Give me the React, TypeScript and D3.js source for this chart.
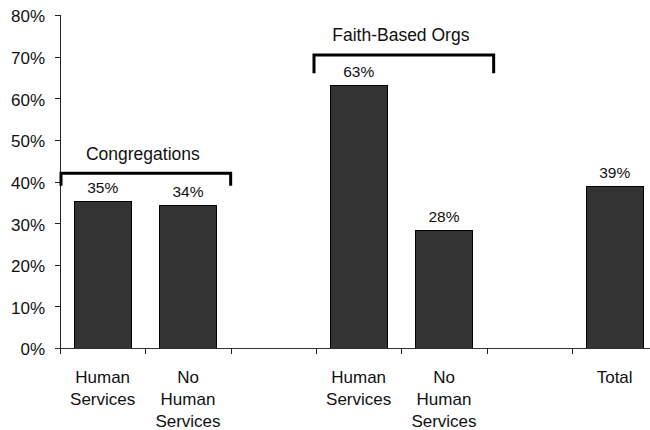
import React from "react";
import * as d3 from "d3";

const categories = ["congHS", "congNoHS", "gap1", "fboHS", "fboNoHS", "gap2", "total"];
const categoryLabels = [
  ["Human", "Services"],
  ["No", "Human", "Services"],
  [],
  ["Human", "Services"],
  ["No", "Human", "Services"],
  [],
  ["Total"],
];
const values: (number | null)[] = [35.4, 34.4, null, 63.2, 28.4, null, 39.0];
const valueLabels: (string | null)[] = ["35%", "34%", null, "63%", "28%", null, "39%"];
const yTicks = [0, 10, 20, 30, 40, 50, 60, 70, 80];

const groupLabels = ["Congregations", "Faith-Based Orgs"];
const groupStartIndex = [0, 3];
const groupEndIndex = [2, 5];
const groupLevel = [42, 70.4];
const groupDrop = [39, 66];

const W = 650;
const H = 430;
const FONT = "'Liberation Sans', Arial, Helvetica, sans-serif";

export default function App() {
  const left = 60;
  const step = 597.33 / categories.length;
  const x = d3
    .scaleBand<string>()
    .domain(categories)
    .range([left, left + step * categories.length])
    .paddingInner(0.325)
    .paddingOuter(0.1625);
  const y = d3.scaleLinear().domain([0, 80]).range([348, 15]);
  const boundary = (i: number) => left + i * x.step();
  const bw = x.bandwidth();
  const y0 = y(0);

  const bracketPad = [[0, 0], [-3, 7]];

  return (
    <svg
      width={W}
      height={H}
      style={{ position: "absolute", left: 0, top: 0, display: "block", background: "#fff" }}
      fontFamily={FONT}
    >
      {/* bars */}
      {categories.map((c, i) =>
        values[i] == null ? null : (
          <rect
            key={c}
            x={Math.round(x(c)!) + 0.5}
            y={Math.round(y(values[i] as number)) + 0.5}
            width={Math.round(bw) - 1}
            height={Math.round(y0) - Math.round(y(values[i] as number))}
            fill="#333333"
            stroke="#000"
            strokeWidth={1}
          />
        )
      )}
      {/* value labels */}
      {categories.map((c, i) =>
        valueLabels[i] == null ? null : (
          <text
            key={"v" + c}
            x={x(c)! + bw / 2}
            y={y(values[i] as number) - 8}
            textAnchor="middle"
            fontSize={15.5}
            fill="#111"
          >
            {valueLabels[i]}
          </text>
        )
      )}
      {/* y axis */}
      <line x1={left + 0.5} x2={left + 0.5} y1={y(80)} y2={y0} stroke="#222" strokeWidth={1} />
      {yTicks.map((t) => (
        <g key={"yt" + t}>
          <line x1={left - 5} x2={left} y1={Math.round(y(t)) + 0.5} y2={Math.round(y(t)) + 0.5} stroke="#222" />
          <text x={45} y={y(t) + 1.5} dy="0.35em" textAnchor="end" fontSize={17} fill="#111">
            {t + "%"}
          </text>
        </g>
      ))}
      {/* x axis */}
      <line x1={left - 5} x2={W} y1={Math.round(y0) + 0.5} y2={Math.round(y0) + 0.5} stroke="#333" strokeWidth={1} />
      {d3.range(categories.length + 1).map((i) => (
        <line
          key={"xt" + i}
          x1={Math.round(boundary(i)) + 0.5}
          x2={Math.round(boundary(i)) + 0.5}
          y1={y0}
          y2={y0 + 6}
          stroke="#222"
        />
      ))}
      {categories.map((c, i) => (
        <text key={"xl" + c} textAnchor="middle" fontSize={17} fill="#111">
          {categoryLabels[i].map((ln, j) => (
            <tspan key={j} x={x(c)! + bw / 2} y={383 + j * 22}>
              {ln}
            </tspan>
          ))}
        </text>
      ))}
      {/* group brackets */}
      {groupLabels.map((g, k) => {
        const xa = boundary(groupStartIndex[k]) + bracketPad[k][0] + 1;
        const xb = boundary(groupEndIndex[k]) + bracketPad[k][1];
        const yl = y(groupLevel[k]);
        const yd = y(groupDrop[k]);
        return (
          <g key={"g" + k}>
            <path
              d={`M${xa},${yd} L${xa},${yl} L${xb},${yl} L${xb},${yd}`}
              fill="none"
              stroke="#000"
              strokeWidth={3}
            />
            <text x={(xa + xb) / 2 - 3} y={yl - 13.5} textAnchor="middle" fontSize={17.5} fill="#111">
              {g}
            </text>
          </g>
        );
      })}
    </svg>
  );
}
